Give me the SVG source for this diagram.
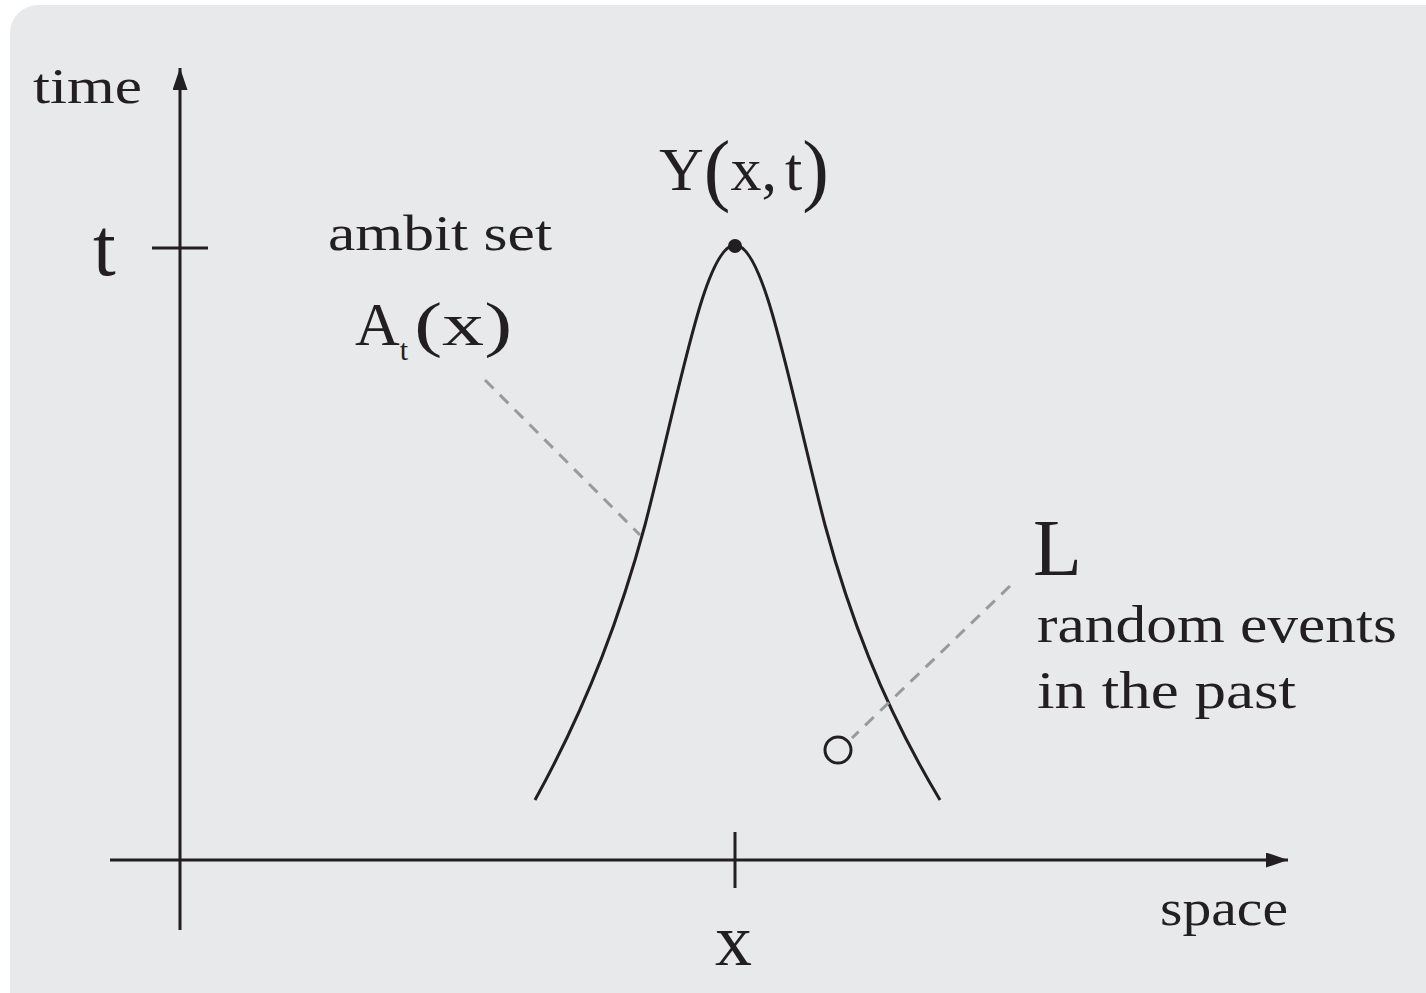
<svg xmlns="http://www.w3.org/2000/svg" width="1426" height="993" viewBox="0 0 1426 993">
<style>
.ink{fill:none;stroke:#231f20;stroke-width:3}
.lead{fill:none;stroke:#999a9c;stroke-width:3;stroke-dasharray:12 9}
text{font-family:"Liberation Serif","Times New Roman",serif;fill:#231f20}
.lbl{font-size:50px}
</style>
<defs>
<marker id="ah" viewBox="0 0 22 15" refX="22" refY="7.5" markerWidth="22" markerHeight="15" markerUnits="userSpaceOnUse" orient="auto">
<path d="M0,0 L22,7.5 L0,15 Z" fill="#231f20"/>
</marker>
</defs>
<rect x="10" y="5" width="1450" height="1020" rx="28" fill="#e8e9eb"/>
<g id="axes">
<line class="ink" x1="180" y1="930" x2="180" y2="68" marker-end="url(#ah)"/>
<line class="ink" x1="110" y1="860" x2="1288" y2="860" marker-end="url(#ah)"/>
<line class="ink" x1="152" y1="248" x2="208" y2="248"/>
<line class="ink" x1="735" y1="832" x2="735" y2="888"/>
</g>
<g id="ambit-set">
<path class="ink" d="M535,800 C590,700 622,610 645,525 C680,390 705,245 735,245 C765,245 790,390 825,525 C848,610 880,700 940,800"/>
<circle cx="735" cy="246" r="7" fill="#231f20"/>
</g>
<g id="connectors">
<line class="lead" x1="485" y1="380" x2="640" y2="535"/>
<line class="lead" x1="1010" y1="586" x2="852" y2="738"/>
</g>
<g id="event">
<circle cx="838" cy="750" r="13" fill="none" stroke="#231f20" stroke-width="3"/>
</g>
<g id="labels">
<text class="lbl" x="33" y="103" textLength="109" lengthAdjust="spacingAndGlyphs">time</text>
<text x="93" y="275" font-size="82">t</text>
<text x="659" y="190" font-size="62">Y<tspan font-size="80" dy="6">(</tspan><tspan dy="-6">x,</tspan><tspan dx="8">t</tspan><tspan font-size="80" dy="6">)</tspan></text>
<text class="lbl" x="328" y="250" textLength="224" lengthAdjust="spacingAndGlyphs">ambit set</text>
<text x="355" y="345" font-size="62">A<tspan font-size="30" dy="15">t</tspan><tspan dx="6" dy="-15" textLength="98" lengthAdjust="spacingAndGlyphs">(x)</tspan></text>
<text x="1033" y="575" font-size="80">L</text>
<text x="1037" y="642" font-size="52" textLength="360" lengthAdjust="spacingAndGlyphs">random events</text>
<text x="1037" y="708" font-size="52" textLength="259" lengthAdjust="spacingAndGlyphs">in the past</text>
<text class="lbl" x="1160" y="925" textLength="128" lengthAdjust="spacingAndGlyphs">space</text>
<text x="715" y="965" font-size="74">x</text>
</g>
</svg>
